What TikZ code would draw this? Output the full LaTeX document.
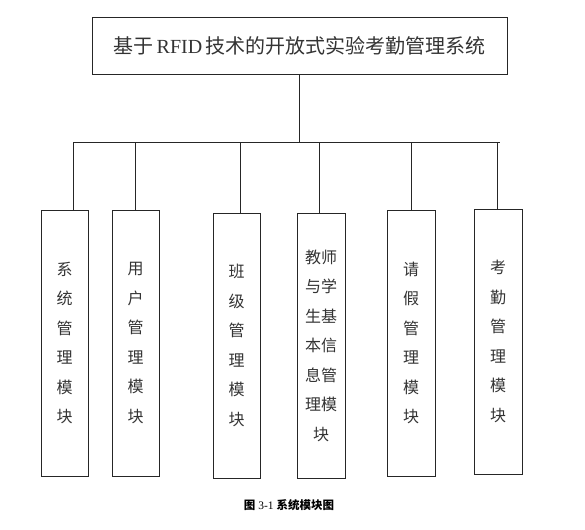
\documentclass[tikz,border=0pt]{standalone}
\usepackage{fontspec}
\setmainfont{Liberation Serif}
\newfontfamily\cjk{Noto Sans CJK SC}
\usepackage{tikz}
\usetikzlibrary{positioning}
\tikzset{
  link/.style={line width=0.9pt,draw=black!85},
  sysbox/.style={draw=black!85,line width=0.9pt,text=black!80,
    font=\cjk\fontsize{20}{24}\selectfont,
    minimum width=415,minimum height=57,inner sep=0pt},
  modbox/.style={draw=black!85,line width=0.9pt,text=black!80,
    font=\cjk\fontsize{16}{29.5}\selectfont,align=center,
    minimum width=47,minimum height=265,inner sep=0pt},
  caption/.style={font=\fontsize{11.5}{14}\selectfont,text=black}
}

\begin{document}
\begin{tikzpicture}[x=1pt,y=-1pt]
  \useasboundingbox (0,0) rectangle (585,529);

  \node[sysbox] (root) at (299.5,45.5)
    {基于\,{\rmfamily RFID}\,技术的开放式实验考勤管理系统};

  % bus line
  \coordinate (bl) at (73,142);
  \coordinate (br) at (500,142);
  \draw[link] (bl) -- (br);
  \draw[link] (root.south) -- (root.south |- bl);

  % modules
  \node[modbox,minimum height=266] (m1) at (64.5,343) {系\\统\\管\\理\\模\\块};
  \node[modbox,minimum height=266] (m2) at (135.5,343) {用\\户\\管\\理\\模\\块};
  \node[modbox] (m3) at (236.5,345.5) {班\\级\\管\\理\\模\\块};
  \node[modbox,minimum width=48] (m4) at (321,345.5)
    {教师\\与学\\生基\\本信\\息管\\理模\\块};
  \node[modbox,minimum width=48,minimum height=266] (m5) at (411,343) {请\\假\\管\\理\\模\\块};
  \node[modbox,minimum width=48] (m6) at (498,341.5) {考\\勤\\管\\理\\模\\块};

  \foreach \m/\dx in {m1/8.5,m2/0,m3/3.5,m4/-2,m5/0,m6/-1}{
    \coordinate (t) at ([xshift=\dx]\m.north);
    \draw[link] (t) -- (t |- bl);
  }

  \node[caption] (cap) at (289,505) {{\cjk\bfseries 图}\ 3-1\ {\cjk\bfseries 系统模块图}};
\end{tikzpicture}
\end{document}
